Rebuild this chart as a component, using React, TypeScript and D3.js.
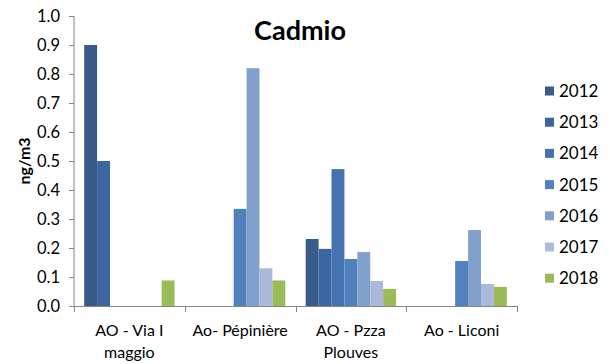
import React from "react";
import * as d3 from "d3";

const categories: string[][] = [
  ["AO - Via I", "maggio"],
  ["Ao- Pépinière"],
  ["AO - Pzza", "Plouves"],
  ["Ao - Liconi"],
];
const years = ["2012", "2013", "2014", "2015", "2016", "2017", "2018"];
const colors = ["#385b8a", "#3d66a0", "#4573b1", "#4f81bd", "#81a0cb", "#abbadc", "#9bbb59"];
// values[yearIndex][categoryIndex]
const values: (number | null)[][] = [
  [0.9, null, 0.231, null],
  [0.5, null, 0.197, null],
  [null, null, 0.472, null],
  [null, 0.335, 0.162, 0.155],
  [null, 0.82, 0.186, 0.262],
  [null, 0.13, 0.086, 0.076],
  [0.088, 0.088, 0.059, 0.066],
];
const yTicks = [0, 0.1, 0.2, 0.3, 0.4, 0.5, 0.6, 0.7, 0.8, 0.9, 1.0];

const W = 610, H = 364;
const left = 74, right = 517, top = 16, bottom = 306;
const font = "Lato, 'Open Sans', sans-serif";

export default function App() {
  const x = d3.scaleBand<number>().domain(categories.map((_, i) => i)).range([left, right]).padding(0);
  const inner = d3.scaleBand<number>().domain(years.map((_, i) => i)).range([0, x.bandwidth()]).paddingOuter(0.79).paddingInner(0);
  const y = d3.scaleLinear().domain([0, 1]).range([bottom, top]);

  return (
    <svg width={W} height={H} style={{ position: "absolute", left: 0, top: 0, background: "#fff" }}>
      <text x={300} y={40} textAnchor="middle" fontFamily={font} fontWeight="bold" fontSize={27} fill="#000">Cadmio</text>
      {/* bars */}
      {values.map((series, si) =>
        series.map((v, ci) =>
          v == null ? null : (
            <rect key={`${si}-${ci}`} x={(x(ci) ?? 0) + (inner(si) ?? 0)} y={y(v)} width={inner.bandwidth()} height={bottom - y(v)} fill={colors[si]} />
          )
        )
      )}
      {/* y axis */}
      <line x1={left} x2={left} y1={top} y2={bottom} stroke="#868686" strokeWidth={1} />
      {yTicks.map((t) => (
        <g key={t}>
          <line x1={left - 5} x2={left} y1={Math.round(y(t)) + 0.5} y2={Math.round(y(t)) + 0.5} stroke="#868686" />
          <text x={left - 14} y={y(t) + 5.5} textAnchor="end" fontFamily={font} fontSize={16.5} fill="#000">{t.toFixed(1)}</text>
        </g>
      ))}
      {/* x axis */}
      <line x1={left} x2={right} y1={bottom + 0.5} y2={bottom + 0.5} stroke="#868686" />
      {[...categories.map((_, i) => x(i) ?? 0), right].map((px, i) => (
        <line key={i} x1={Math.round(px) + 0.5} x2={Math.round(px) + 0.5} y1={bottom} y2={bottom + 6} stroke="#868686" />
      ))}
      {categories.map((lines, i) => (
        <text key={i} textAnchor="middle" fontFamily={font} fontSize={16} fill="#000">
          {lines.map((l, j) => (
            <tspan key={j} x={(x(i) ?? 0) + x.bandwidth() / 2} y={336 + j * 22}>{l}</tspan>
          ))}
        </text>
      ))}
      <text transform={`translate(30,${(top + bottom) / 2}) rotate(-90)`} textAnchor="middle" fontFamily={font} fontWeight="bold" fontSize={16} fill="#000">ng/m3</text>
      {/* legend */}
      {years.map((yr, i) => (
        <g key={yr} transform={`translate(545,${91 + i * 31.2})`}>
          <rect x={0} y={-4.5} width={9} height={9} fill={colors[i]} />
          <text x={14} y={6} fontFamily={font} fontSize={17} fill="#000">{yr}</text>
        </g>
      ))}
    </svg>
  );
}
